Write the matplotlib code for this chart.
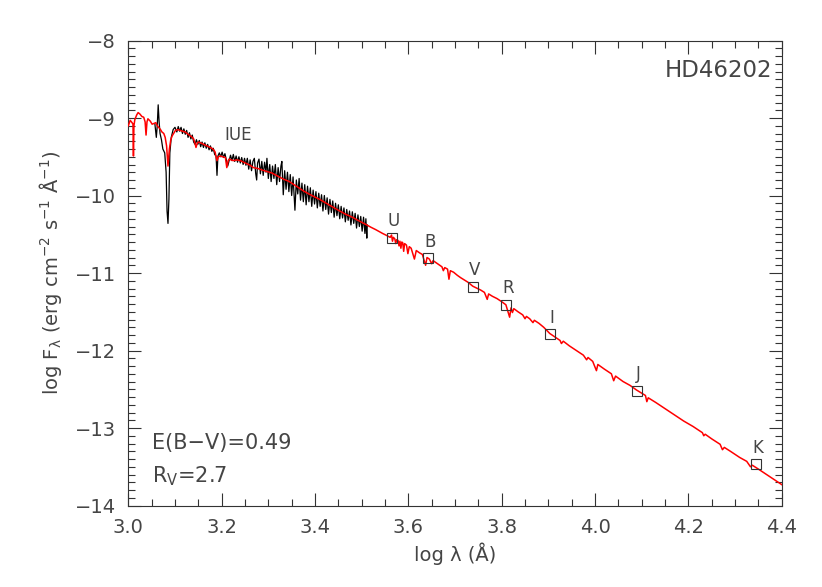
import matplotlib
matplotlib.use("Agg")
import matplotlib.pyplot as plt
from matplotlib.ticker import MultipleLocator, FormatStrFormatter

# ---------------- data ----------------
# Model SED (red), log wavelength [A] and log flux
model_logwl = [
    3.000, 3.004, 3.008, 3.010, 3.011, 3.012, 3.014, 3.018, 3.021, 3.025,
    3.029, 3.033, 3.036, 3.038, 3.040, 3.042, 3.047, 3.051, 3.055, 3.059,
    3.062, 3.065, 3.069, 3.072, 3.076, 3.079, 3.082, 3.085, 3.088, 3.091,
    3.094, 3.098, 3.101, 3.106, 3.111, 3.116, 3.122, 3.128, 3.133, 3.137,
    3.140, 3.143, 3.145, 3.148, 3.151, 3.158, 3.165, 3.172, 3.179, 3.183,
    3.186, 3.188, 3.190, 3.193, 3.197, 3.202, 3.208, 3.211, 3.214, 3.216,
    3.220, 3.225, 3.232, 3.240, 3.247, 3.254, 3.261, 3.268, 3.277, 3.286,
    3.297, 3.308, 3.320, 3.333, 3.345, 3.360, 3.375, 3.390, 3.410, 3.430,
    3.447, 3.465, 3.480, 3.495, 3.511, 3.520, 3.530, 3.545, 3.555, 3.561,
    3.564, 3.566, 3.568, 3.571, 3.573, 3.575, 3.578, 3.580, 3.582, 3.584,
    3.586, 3.588, 3.590, 3.592, 3.596, 3.599, 3.602, 3.606, 3.613, 3.617,
    3.624, 3.630, 3.637, 3.640, 3.645, 3.650, 3.653, 3.660, 3.667, 3.672,
    3.675, 3.678, 3.684, 3.687, 3.690, 3.697, 3.705, 3.712, 3.720, 3.728,
    3.738, 3.745, 3.755, 3.763, 3.769, 3.772, 3.780, 3.790, 3.800, 3.809,
    3.817, 3.820, 3.823, 3.826, 3.835, 3.845, 3.850, 3.853, 3.860, 3.867,
    3.870, 3.880, 3.890, 3.903, 3.915, 3.925, 3.928, 3.932, 3.945, 3.960,
    3.975, 3.982, 3.985, 3.995, 4.003, 4.006, 4.020, 4.035, 4.040, 4.044,
    4.060, 4.075, 4.089, 4.100, 4.108, 4.111, 4.114, 4.130, 4.150, 4.170,
    4.190, 4.210, 4.230, 4.233, 4.236, 4.250, 4.268, 4.273, 4.277, 4.290,
    4.310, 4.325, 4.333, 4.337, 4.350, 4.370, 4.385, 4.400,
]
model_logflux = [
    -9.10, -9.03, -9.06, -9.08, -9.49, -9.10, -9.02, -8.96, -8.93, -8.95,
    -8.98, -8.99, -9.05, -9.22, -9.05, -9.01, -9.04, -9.08, -9.07, -9.06,
    -9.10, -9.12, -9.15, -9.18, -9.20, -9.25, -9.36, -9.62, -9.40, -9.28,
    -9.23, -9.19, -9.16, -9.15, -9.16, -9.17, -9.18, -9.21, -9.23, -9.25,
    -9.27, -9.33, -9.38, -9.32, -9.31, -9.33, -9.35, -9.37, -9.39, -9.41,
    -9.44, -9.50, -9.55, -9.50, -9.49, -9.50, -9.51, -9.64, -9.55, -9.53,
    -9.54, -9.55, -9.54, -9.55, -9.57, -9.59, -9.61, -9.64, -9.65, -9.67,
    -9.69, -9.71, -9.75, -9.79, -9.82, -9.88, -9.94, -9.99, -10.05, -10.12,
    -10.18, -10.24, -10.28, -10.33, -10.38, -10.41, -10.44, -10.49, -10.52, -10.54,
    -10.51, -10.59, -10.54, -10.56, -10.62, -10.57, -10.58, -10.65, -10.59, -10.68,
    -10.60, -10.61, -10.72, -10.62, -10.64, -10.75, -10.66, -10.68, -10.82, -10.71,
    -10.74, -10.76, -10.90, -10.80, -10.82, -10.88, -10.84, -10.87, -10.90, -10.92,
    -10.97, -10.93, -10.95, -11.08, -10.97, -10.99, -11.03, -11.06, -11.09, -11.12,
    -11.17, -11.19, -11.22, -11.25, -11.34, -11.27, -11.30, -11.33, -11.37, -11.41,
    -11.57, -11.45, -11.51, -11.46, -11.50, -11.54, -11.59, -11.56, -11.59, -11.64,
    -11.61, -11.65, -11.70, -11.78, -11.83, -11.87, -11.91, -11.88, -11.94, -12.00,
    -12.06, -12.12, -12.09, -12.14, -12.26, -12.18, -12.24, -12.30, -12.39, -12.33,
    -12.40, -12.45, -12.51, -12.55, -12.58, -12.66, -12.61, -12.67, -12.75, -12.83,
    -12.91, -12.98, -13.06, -13.10, -13.08, -13.14, -13.21, -13.28, -13.25, -13.30,
    -13.38, -13.43, -13.50, -13.48, -13.53, -13.61, -13.67, -13.73,
]

# IUE spectrum (black)
iue_logwl = [
    3.057, 3.060, 3.062, 3.064, 3.066, 3.068, 3.071, 3.074, 3.078, 3.081,
    3.083, 3.085, 3.087, 3.089, 3.092, 3.096, 3.100, 3.104, 3.107, 3.110,
    3.113, 3.116, 3.119, 3.122, 3.125, 3.128, 3.131, 3.134, 3.137, 3.140,
    3.143, 3.146, 3.149, 3.152, 3.155, 3.158, 3.161, 3.164, 3.167, 3.170,
    3.173, 3.176, 3.179, 3.182, 3.185, 3.188, 3.190, 3.192, 3.195, 3.198,
    3.201, 3.204, 3.207, 3.210, 3.213, 3.216, 3.219, 3.222, 3.225, 3.228,
    3.231, 3.234, 3.237, 3.240, 3.243, 3.246, 3.249, 3.252, 3.255, 3.258,
    3.261, 3.264, 3.267, 3.270, 3.273, 3.275, 3.277, 3.280, 3.283, 3.286,
    3.289, 3.292, 3.295, 3.297, 3.300, 3.303, 3.306, 3.309, 3.312, 3.315,
    3.318, 3.321, 3.324, 3.327, 3.329, 3.332, 3.335, 3.338, 3.341, 3.344,
    3.347, 3.350, 3.353, 3.357, 3.360, 3.363, 3.366, 3.369, 3.372, 3.375,
    3.378, 3.381, 3.384, 3.387, 3.390, 3.393, 3.396, 3.399, 3.402, 3.405,
    3.408, 3.411, 3.414, 3.417, 3.420, 3.423, 3.426, 3.429, 3.432, 3.435,
    3.438, 3.441, 3.444, 3.447, 3.450, 3.453, 3.456, 3.459, 3.462, 3.465,
    3.468, 3.471, 3.474, 3.477, 3.480, 3.483, 3.486, 3.489, 3.492, 3.495,
    3.498, 3.501, 3.504, 3.507, 3.509, 3.511, 3.512,
]
iue_logflux = [
    -9.08, -9.25, -9.10, -8.83, -9.05, -9.20, -9.28, -9.40, -9.45, -9.70,
    -10.20, -10.36, -10.05, -9.45, -9.25, -9.15, -9.12, -9.18, -9.11, -9.17,
    -9.12, -9.20, -9.14, -9.21, -9.16, -9.25, -9.19, -9.27, -9.22, -9.31,
    -9.34, -9.28, -9.34, -9.29, -9.37, -9.31, -9.38, -9.32, -9.39, -9.34,
    -9.41, -9.36, -9.43, -9.39, -9.47, -9.49, -9.74, -9.49, -9.45, -9.50,
    -9.44, -9.51, -9.46, -9.54, -9.62, -9.55, -9.48, -9.55, -9.47, -9.56,
    -9.49, -9.57, -9.50, -9.58, -9.51, -9.60, -9.52, -9.61, -9.52, -9.66,
    -9.54, -9.68, -9.56, -9.52, -9.72, -9.80, -9.58, -9.53, -9.72, -9.56,
    -9.74, -9.57, -9.70, -9.52, -9.78, -9.60, -9.82, -9.62, -9.78, -9.60,
    -9.86, -9.64, -9.82, -9.62, -9.56, -9.99, -9.68, -9.92, -9.70, -9.95,
    -9.73, -10.00, -9.76, -10.19, -9.80, -9.98, -9.78, -10.06, -9.84, -10.08,
    -9.86, -10.12, -9.88, -10.08, -9.90, -10.14, -9.93, -10.11, -9.95, -10.16,
    -9.97, -10.14, -9.99, -10.20, -10.00, -10.18, -10.03, -10.24, -10.05, -10.22,
    -10.07, -10.28, -10.10, -10.26, -10.12, -10.30, -10.14, -10.29, -10.16, -10.34,
    -10.18, -10.32, -10.20, -10.38, -10.21, -10.36, -10.23, -10.42, -10.25, -10.40,
    -10.27, -10.46, -10.28, -10.49, -10.30, -10.55, -10.38,
]

# Photometry (squares)
phot_bands = ["U", "B", "V", "R", "I", "J", "K"]
phot_logwl = [3.564, 3.643, 3.738, 3.809, 3.904, 4.089, 4.344]
phot_logflux = [-10.55, -10.81, -11.18, -11.41, -11.79, -12.52, -13.47]

star_name = "HD46202"
ebv_text = "E(B\u2212V)=0.49"
rv_text = "R$_V$=2.7"

# ---------------- plot ----------------
plt.rcParams["font.family"] = ["DejaVu Sans"]
plt.rcParams["mathtext.default"] = "regular"
plt.rcParams["axes.unicode_minus"] = True

tc = "#454545"
fig = plt.figure(figsize=(8.22, 5.87), dpi=100)
ax = fig.add_axes([0.1561, 0.1388, 0.7949, 0.7922])

ax.plot(iue_logwl, iue_logflux, color="black", lw=0.9, zorder=2)
ax.plot(model_logwl, model_logflux, color="#ff0000", lw=1.1, zorder=3)
ax.plot(phot_logwl, phot_logflux, linestyle="none", marker="s", ms=7.5,
        mfc="none", mec="#333333", mew=0.8, zorder=4)
for b, x, y in zip(phot_bands, phot_logwl, phot_logflux):
    ax.annotate(b, (x, y), xytext=(1.5, 12), textcoords="offset points",
                ha="center", va="center", fontsize=12, color=tc)

ax.text(3.235, -9.22, "IUE", fontsize=12, color=tc, ha="center", va="center")
ax.text(0.985, 0.935, star_name, transform=ax.transAxes, fontsize=16.5,
        color=tc, ha="right", va="center")
ax.text(0.036, 0.135, ebv_text, transform=ax.transAxes, fontsize=15,
        color=tc, ha="left", va="center")
ax.text(0.036, 0.062, rv_text, transform=ax.transAxes, fontsize=15,
        color=tc, ha="left", va="center")

ax.set_xlim(3.0, 4.4)
ax.set_ylim(-14, -8)
ax.xaxis.set_major_locator(MultipleLocator(0.2))
ax.xaxis.set_minor_locator(MultipleLocator(0.05))
ax.xaxis.set_major_formatter(FormatStrFormatter("%.1f"))
ax.yaxis.set_major_locator(MultipleLocator(1))
ax.yaxis.set_minor_locator(MultipleLocator(0.1))

ax.tick_params(which="both", direction="in", top=True, right=True,
               colors="#333333", labelcolor=tc, width=0.8)
ax.tick_params(which="major", length=9.5, labelsize=14, pad=9)
ax.tick_params(which="minor", length=5)
for s in ax.spines.values():
    s.set_color("#333333")
    s.set_linewidth(0.8)

ax.set_xlabel("log \u03bb (\u00c5)", fontsize=14, color=tc, labelpad=4)
ax.set_ylabel("log F$_\\lambda$ (erg cm$^{-2}$ s$^{-1}$ \u00c5$^{-1}$)",
              fontsize=14, color=tc, labelpad=8)

fig.savefig("out.png", dpi=100)
